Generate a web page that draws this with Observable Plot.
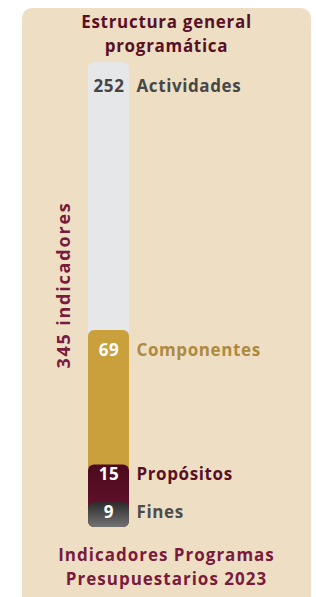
<!DOCTYPE html>
<html><head><meta charset="utf-8">
<script src="https://cdn.jsdelivr.net/npm/d3@7"></script>
<script src="https://cdn.jsdelivr.net/npm/@observablehq/plot@0.6"></script>
<style>
  html,body{margin:0;padding:0;background:#ffffff;}
  body{width:316px;height:597px;position:relative;overflow:hidden;font-family:"Open Sans",sans-serif;}
  #card{position:absolute;left:22px;top:8px;width:289px;height:620px;background:#EEDFC4;border-radius:10px;}
  .ttl{position:absolute;left:22px;width:289px;text-align:center;font-weight:700;font-size:17px;line-height:24px;letter-spacing:0.7px;}
  #title{top:10px;color:#5A1024;}
  #caption{top:543px;color:#7A1A3C;letter-spacing:1px;}
  #chart{position:absolute;left:0;top:0;}
  #chart svg{background:transparent;overflow:visible;}
  #chart svg text{letter-spacing:0.6px;}
</style>
</head><body>
<div id="card"></div>
<div id="title" class="ttl">Estructura general<br>programática</div>
<div id="chart"></div>
<div id="caption" class="ttl">Indicadores Programas<br>Presupuestarios 2023</div>
<script>
// ---- data ----
const categories = ["Actividades", "Componentes", "Propósitos", "Fines"];
const values = [252, 69, 15, 9];
const segColors = ["#E6E7E8", "#C9A03C", "url(#gMaroon)", "url(#gGray)"];
const numColors = ["#454545", "#ffffff", "#ffffff", "#ffffff"];
const nameColors = ["#474747", "#AE893F", "#5A1024", "#4D4D4D"];
const totalLabel = "indicadores";

// cumulative from the bottom (Fines at the base)
const rows = categories.map((c, i) => ({name: c, value: values[i]}));
let acc = 0;
const cum = new Map();
[...rows].reverse().forEach(r => { acc += r.value; cum.set(r.name, acc); });
rows.forEach(r => r.top = cum.get(r.name));
const total = d3.sum(values);

const txt = {fontSize: 17, fontWeight: 700, fontFamily: "Open Sans"};
const numFill = d => numColors[categories.indexOf(d.name)];
const nameFill = d => nameColors[categories.indexOf(d.name)];
const labelMarks = (subset, dy) => [
  Plot.text(subset, {x: 0.5, y: "top", text: d => String(d.value), dy, fill: numFill, ...txt}),
  Plot.text(subset, {x: 1, y: "top", text: "name", dy, dx: 7, textAnchor: "start", fill: nameFill, ...txt})
];

const plot = Plot.plot({
  width: 316,
  height: 597,
  marginTop: 62,
  marginBottom: 70,
  marginLeft: 88,
  marginRight: 187,
  style: {background: "transparent", overflow: "visible"},
  x: {domain: [0, 1], axis: null},
  y: {type: "symlog", constant: 120, domain: [0, total], axis: null},
  color: {type: "ordinal", domain: categories, range: segColors},
  marks: [
    Plot.rect(rows, {x1: 0, x2: 1, y1: 0, y2: "top", fill: "name", rx: 6}),
    ...labelMarks(rows.slice(0, 1), 24),
    ...labelMarks(rows.slice(1, 2), 20),
    ...labelMarks(rows.slice(2), 10),
    Plot.text([`${total} ${totalLabel}`], {frameAnchor: "left", dx: -24, dy: -10, rotate: -90, textAnchor: "middle",
      fill: "#7A1A3C", fontSize: 18, fontWeight: 700, fontFamily: "Open Sans"})
  ]
});

const svg = d3.select(plot);
svg.selectAll("text").filter(function() { return this.textContent.includes(totalLabel); })
  .style("letter-spacing", "1.8px");
const defs = svg.insert("defs", ":first-child");
const g1 = defs.append("linearGradient").attr("id", "gMaroon").attr("x1", 0).attr("y1", 0).attr("x2", 0).attr("y2", 1);
g1.append("stop").attr("offset", "0%").attr("stop-color", "#4C0A1D");
g1.append("stop").attr("offset", "100%").attr("stop-color", "#681430");
const g2 = defs.append("linearGradient").attr("id", "gGray").attr("x1", 0).attr("y1", 0).attr("x2", 0).attr("y2", 1);
g2.append("stop").attr("offset", "0%").attr("stop-color", "#2C2C2C");
g2.append("stop").attr("offset", "100%").attr("stop-color", "#727272");

document.getElementById("chart").appendChild(plot);
</script>
</body></html>
